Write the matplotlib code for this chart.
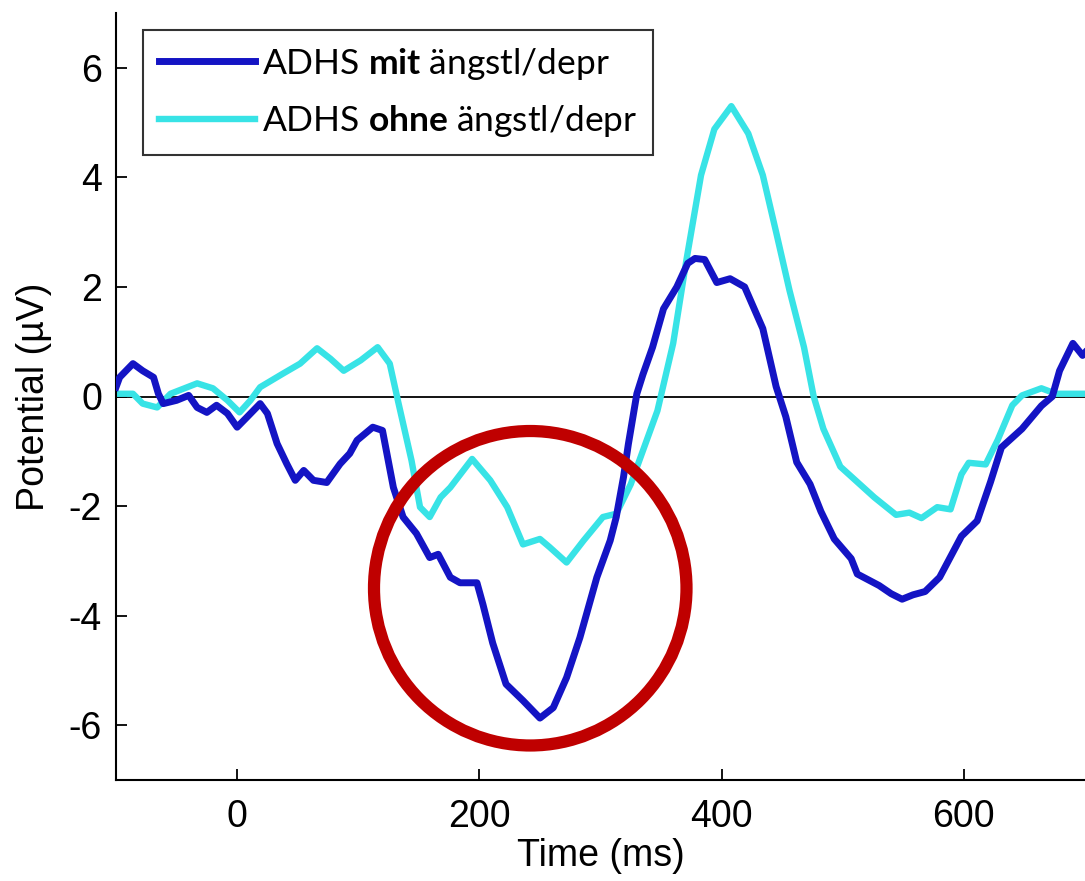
import matplotlib
matplotlib.use("Agg")
import matplotlib.pyplot as plt
from matplotlib.patches import Ellipse

# ---- data ----
t_mit = [-100, -97, -86, -78, -69, -65, -61, -50, -40, -33, -25, -17, -8, 0, 8, 19, 25, 33, 41, 48,
         55, 63, 74, 85, 93, 99, 112, 120, 129, 137, 148, 159, 166, 176, 184, 198, 203, 211, 222, 236,
         250, 261, 272, 283, 297, 308, 313, 319, 323, 330, 335, 343, 352, 363, 372, 378, 386, 396, 407,
         419, 434, 445, 453, 462, 473, 482, 493, 507, 512, 530, 540, 549, 558, 568, 580, 598, 611, 622,
         631, 648, 664, 673, 679, 690, 698, 700]
v_mit = [0.17, 0.35, 0.6, 0.47, 0.35, 0.05, -0.13, -0.07, 0.02, -0.2, -0.29, -0.16, -0.31, -0.56, -0.38,
         -0.13, -0.31, -0.86, -1.23, -1.53, -1.35, -1.53, -1.57, -1.23, -1.04, -0.8, -0.56, -0.62, -1.66,
         -2.2, -2.5, -2.94, -2.88, -3.3, -3.4, -3.4, -3.8, -4.5, -5.25, -5.55, -5.87, -5.68, -5.13, -4.4,
         -3.3, -2.63, -2.2, -1.47, -0.87, 0.05, 0.4, 0.9, 1.6, 2.0, 2.43, 2.52, 2.5, 2.08, 2.15, 2.0, 1.24,
         0.18, -0.37, -1.2, -1.6, -2.1, -2.6, -2.96, -3.24, -3.45, -3.6, -3.7, -3.62, -3.56, -3.3, -2.55,
         -2.27, -1.56, -0.93, -0.59, -0.17, 0.0, 0.47, 0.97, 0.75, 0.8]

t_ohne = [-100, -86, -78, -66, -55, -33, -20, -8, 2, 11, 19, 38, 52, 66, 77, 88, 102, 116, 126, 133,
          144, 151, 159, 168, 176, 194, 209, 223, 236, 250, 258, 272, 286, 302, 313, 325, 335, 347, 360,
          371, 383, 394, 408, 422, 434, 445, 456, 468, 476, 484, 498, 512, 526, 544, 555, 565, 578, 589,
          598, 604, 618, 628, 640, 648, 664, 676, 700]
v_ohne = [0.05, 0.05, -0.13, -0.2, 0.05, 0.24, 0.15, -0.07, -0.29, -0.07, 0.17, 0.42, 0.6, 0.88, 0.69,
          0.47, 0.66, 0.9, 0.6, -0.1, -1.17, -2.02, -2.2, -1.84, -1.66, -1.14, -1.53, -2.02, -2.7, -2.6,
          -2.75, -3.03, -2.63, -2.2, -2.14, -1.6, -0.99, -0.26, 0.97, 2.5, 4.04, 4.88, 5.3, 4.8, 4.04, 3.0,
          1.94, 0.9, 0.0, -0.59, -1.28, -1.56, -1.84, -2.16, -2.12, -2.22, -2.02, -2.06, -1.42, -1.21,
          -1.24, -0.79, -0.16, 0.02, 0.15, 0.05, 0.05]

label_mit = r"ADHS $\mathbf{mit}$ ängstl/depr"
label_ohne = r"ADHS $\mathbf{ohne}$ ängstl/depr"
x_ticks = [0, 200, 400, 600]
y_ticks = [-6, -4, -2, 0, 2, 4, 6]

# highlight circle (data coords)
circle_center = (242, -3.5)
circle_w, circle_h = 258, 5.74

plt.rcParams['font.family'] = ['Liberation Sans', 'DejaVu Sans']
plt.rcParams['axes.unicode_minus'] = False
plt.rcParams['mathtext.fontset'] = 'custom'
plt.rcParams['mathtext.rm'] = 'Lato'
plt.rcParams['mathtext.bf'] = 'Lato:bold'

fig = plt.figure(figsize=(10.85, 8.81), dpi=100)
ax = fig.add_axes([116/1085, 101/881, 969/1085, 767/881])

ax.axhline(0, color='black', lw=1.3, zorder=1)
ax.plot(t_mit, v_mit, color='#1414C4', lw=5, label=label_mit, zorder=3, solid_joinstyle='round')
ax.plot(t_ohne, v_ohne, color='#38E3E6', lw=4.6, label=label_ohne, zorder=2, solid_joinstyle='round')

ell = Ellipse(circle_center, circle_w, circle_h, fill=False, edgecolor='#BF0000', lw=8.8,
              zorder=4, clip_on=False)
ax.add_patch(ell)

ax.set_xlim(-100, 700)
ax.set_ylim(-7, 7)
ax.set_xticks(x_ticks)
ax.set_yticks(y_ticks)
ax.tick_params(direction='in', length=8, width=1.3, labelsize=27, pad=14)
ax.tick_params(axis='y', pad=10)
for s in ['top', 'right']:
    ax.spines[s].set_visible(False)
for s in ['left', 'bottom']:
    ax.spines[s].set_linewidth(1.5)

ax.set_xlabel('Time (ms)', fontsize=27, labelpad=2)
ax.set_ylabel('Potential (µV)', fontsize=27, labelpad=12)

leg = ax.legend(loc='upper left', bbox_to_anchor=(0.0279, 0.978), frameon=True, fancybox=False,
                prop={'family': 'Lato', 'size': 25.5}, handlelength=2.7, handletextpad=0.2,
                labelspacing=0.6, borderpad=0.45, borderaxespad=0)
leg.get_frame().set_edgecolor('black')
leg.get_frame().set_linewidth(1.5)

fig.savefig('out.png', dpi=100)
